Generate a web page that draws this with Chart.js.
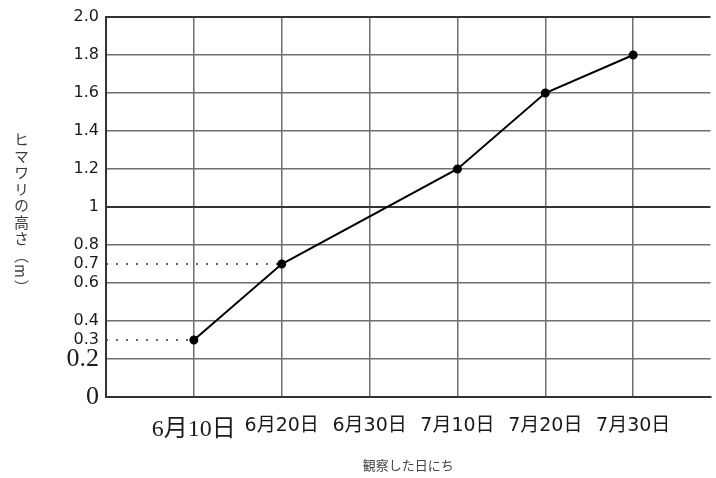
<!DOCTYPE html>
<html>
<head>
<meta charset="utf-8">
<script src="https://cdn.jsdelivr.net/npm/chart.js@4.4.1/dist/chart.umd.min.js"></script>
<style>
  body { margin: 0; background: #fff; }
  #wrap { position: relative; width: 716px; height: 478px; }
  #ytitle {
    position: absolute; left: 11px; top: 132px;
    writing-mode: vertical-rl; text-orientation: mixed;
    font: 15px "Noto Sans CJK JP", sans-serif; color: #3a3a3a; letter-spacing: 1.5px;
  }
</style>
</head>
<body>
<div id="wrap">
  <canvas id="c" width="716" height="478"></canvas>
  <div id="ytitle">ヒマワリの高さ（m）</div>
</div>
<script>
// observation dates and sunflower heights (m); 6/30 has no mark
const dates = ['6月10日', '6月20日', '6月30日', '7月10日', '7月20日', '7月30日'];
const heights = [0.3, 0.7, null, 1.2, 1.6, 1.8];

// y tick values and their labels (0.3 / 0.7 are extra labels, no grid line)
const yTicks = [0, 0.2, 0.3, 0.4, 0.6, 0.7, 0.8, 1, 1.2, 1.4, 1.6, 1.8, 2];
const yLabels = ['0', '0.2', '0.3', '0.4', '0.6', '0.7', '0.8', '1', '1.2', '1.4', '1.6', '1.8', '2.0'];

// dotted guides from the axis to the first two points
const guides = [0.3, 0.7];

const mainPts = heights.map((h, i) => ({ x: i + 1, y: h }));
const guideSets = guides.map((g, i) => ({
  data: [{ x: 0, y: g }, { x: i + 1, y: g }],
  borderColor: '#333',
  borderWidth: 1.5,
  borderDash: [2, 8],
  pointRadius: 0,
  fill: false
}));

const serif = '"Liberation Serif", "Noto Sans CJK JP", serif';
const sans = '"DejaVu Sans", "Noto Sans CJK JP", sans-serif';

new Chart(document.getElementById('c'), {
  type: 'line',
  data: {
    datasets: [{
      data: mainPts,
      borderColor: '#000',
      borderWidth: 2,
      backgroundColor: '#000',
      pointRadius: 3.5,
      pointHoverRadius: 3.5,
      spanGaps: true,
      tension: 0
    }].concat(guideSets)
  },
  options: {
    responsive: false,
    animation: false,
    events: [],
    layout: { padding: { top: 17, left: 0, right: 0, bottom: 0 } },
    plugins: { legend: { display: false }, tooltip: { enabled: false } },
    scales: {
      x: {
        type: 'linear',
        min: 0,
        max: 6.88,
        afterBuildTicks: s => { s.ticks = [0, 1, 2, 3, 4, 5, 6].map(v => ({ value: v })); },
        afterFit: s => { s.height = 81; },
        grid: { color: '#6e6e6e', lineWidth: 1.5, drawTicks: false },
        border: { color: '#333', width: 2 },
        ticks: {
          autoSkip: false,
          maxRotation: 0,
          padding: 18,
          color: '#1a1a1a',
          font: ctx => ctx.tick && ctx.tick.value === 1
            ? { family: serif, size: 24 }
            : { family: sans, size: 19 },
          callback: v => v === 0 ? '' : dates[v - 1]
        },
        title: {
          display: true,
          text: '観察した日にち',
          color: '#444',
          font: { family: '"Noto Sans CJK JP", sans-serif', size: 13 },
          padding: { top: 0, bottom: 5 }
        }
      },
      y: {
        min: 0,
        max: 2,
        afterBuildTicks: s => { s.ticks = yTicks.map(v => ({ value: v })); },
        afterFit: s => { s.width = 106; },
        grid: {
          drawTicks: false,
          color: ctx => {
            const v = ctx.tick.value;
            if (v === 0.3 || v === 0.7) return 'rgba(0,0,0,0)';
            if (v === 1 || v === 2) return '#333';
            return '#6e6e6e';
          },
          lineWidth: ctx => (ctx.tick.value === 1 || ctx.tick.value === 2) ? 2 : 1.5
        },
        border: { color: '#333', width: 2 },
        ticks: {
          autoSkip: false,
          padding: 7,
          color: '#1a1a1a',
          font: ctx => ctx.tick && (ctx.tick.value === 0 || ctx.tick.value === 0.2)
            ? { family: serif, size: 26 }
            : { family: sans, size: 16 },
          callback: v => yLabels[yTicks.indexOf(v)]
        }
      }
    }
  }
});
</script>
</body>
</html>
